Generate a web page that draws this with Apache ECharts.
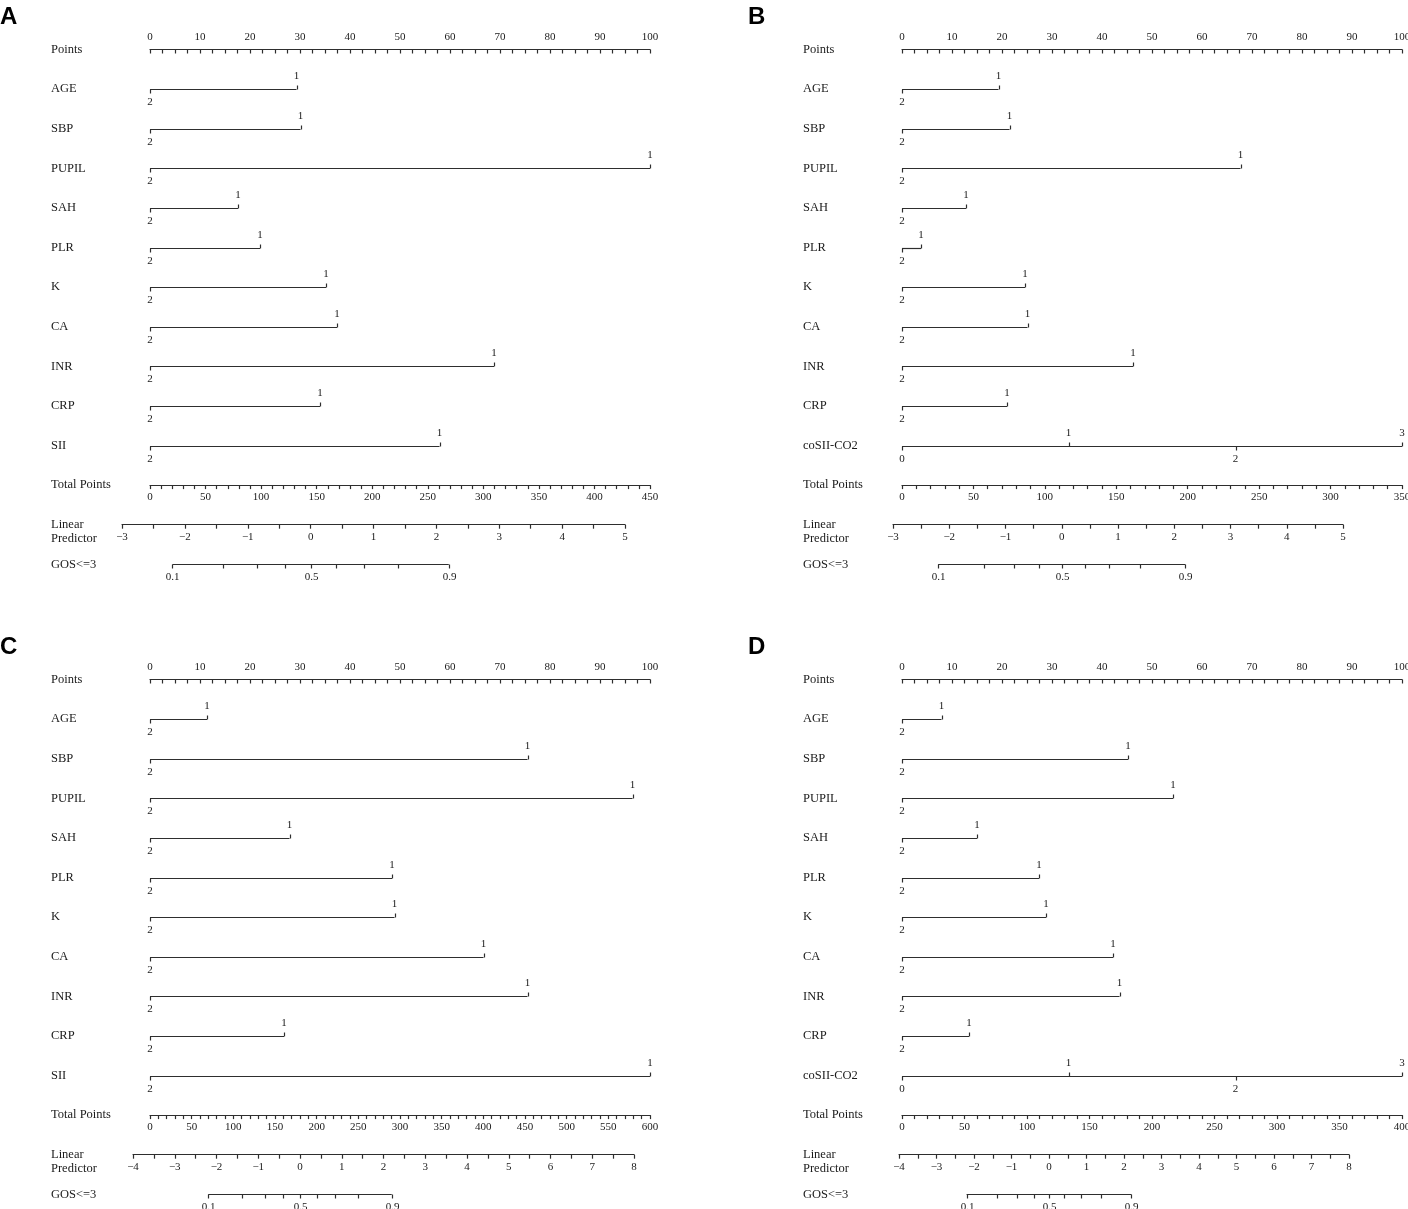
<!DOCTYPE html>
<html>
<head>
<meta charset="utf-8">
<script src="https://cdn.jsdelivr.net/npm/echarts@6/dist/echarts.min.js"></script>
<style>
  html, body { margin: 0; padding: 0; background: #fff; }
  #chart { width: 1408px; height: 1209px; }
</style>
</head>
<body>
<div id="chart"></div>
<script>
// row names
var rowsAC = ['AGE', 'SBP', 'PUPIL', 'SAH', 'PLR', 'K', 'CA', 'INR', 'CRP', 'SII'];
var rowsBD = ['AGE', 'SBP', 'PUPIL', 'SAH', 'PLR', 'K', 'CA', 'INR', 'CRP', 'coSII-CO2'];

// points for level "1" (level "2" sits at 0)
var ptsA = [29.3, 30.1, 100, 17.6, 22.0, 35.2, 37.4, 68.8, 34.0, 57.9];
var ptsB = [19.3, 21.5, 67.7, 12.8, 3.8, 24.6, 25.1, 46.2, 21.0];
var ptsC = [11.4, 75.5, 96.5, 27.9, 48.4, 48.9, 66.7, 75.5, 26.8, 100];
var ptsD = [7.9, 45.2, 54.2, 15.0, 27.4, 28.8, 42.2, 43.5, 13.4];

// coSII-CO2 levels and their points
var cosiiLevels = ['0', '1', '2', '3'];
var cosiiPtsB = [0, 33.3, 66.7, 100];
var cosiiPtsD = [0, 33.3, 66.7, 100];

// scales
var totalMax = [450, 350, 600, 400];
var lpMin = [-3, -3, -4, -4];
var lpMax = [5, 5, 8, 8];
var gosTicks = [0.1, 0.2, 0.3, 0.4, 0.5, 0.6, 0.7, 0.8, 0.9];
var gosLabels = ['0.1', '0.5', '0.9'];

var SERIF = '"Liberation Serif", "Times New Roman", serif';
var INK = '#1a1a1a';
var LINE = '#2e2e2e';
var LW = 1.2;
var ROW = 39.6;

var panels = [
  { key: 'A', ox: 0,   oy: 0,   letterX: 0,   rows: rowsAC, pts: ptsA, multi: null,      lpLeft: 122, lpRight: 625 },
  { key: 'B', ox: 752, oy: 0,   letterX: 748, rows: rowsBD, pts: ptsB, multi: cosiiPtsB, lpLeft: 893, lpRight: 1343 },
  { key: 'C', ox: 0,   oy: 630, letterX: 0,   rows: rowsAC, pts: ptsC, multi: null,      lpLeft: 133, lpRight: 634 },
  { key: 'D', ox: 752, oy: 630, letterX: 748, rows: rowsBD, pts: ptsD, multi: cosiiPtsD, lpLeft: 899, lpRight: 1349 }
];

function minusFmt(v) {
  return v < 0 ? '\u2212' + Math.abs(v) : String(v);
}

function logit(p) {
  return Math.log(p / (1 - p));
}

function crisp(v) {
  return Math.round(v) + 0.5;
}

function shownAxis(idx, min, max, interval, minorSplit, pos, inside) {
  return {
    type: 'value', gridIndex: idx, min: min, max: max, interval: interval, position: pos,
    axisLine: { show: true, onZero: false, lineStyle: { color: LINE, width: LW } },
    axisTick: { show: true, inside: inside, length: 4, lineStyle: { color: LINE, width: LW } },
    minorTick: { show: true, splitNumber: minorSplit, length: 4, lineStyle: { color: LINE, width: LW } },
    axisLabel: {
      show: true, margin: 7, color: INK, fontFamily: SERIF, fontSize: 11,
      formatter: minusFmt, showMinLabel: true, showMaxLabel: true, hideOverlap: false
    },
    splitLine: { show: false },
    minorSplitLine: { show: false }
  };
}

function hiddenAxis(idx, min, max, inverse) {
  return {
    type: 'value', gridIndex: idx, min: min, max: max, inverse: !!inverse,
    show: false, axisLine: { show: false }, axisTick: { show: false },
    axisLabel: { show: false }, splitLine: { show: false }
  };
}

function buildLevels(pts, multi) {
  var list = pts.map(function (v) {
    return [{ t: '2', v: 0, up: false }, { t: '1', v: v, up: true }];
  });
  if (multi) {
    list.push(multi.map(function (v, k) {
      return { t: cosiiLevels[k], v: v, up: k % 2 === 1 };
    }));
  }
  return list;
}

function varRender(levels) {
  return function (params, api) {
    var lv = levels[params.dataIndex];
    var row = api.value(1);
    var pos = lv.map(function (l) { return api.coord([l.v, row]); });
    var xs = pos.map(function (p) { return p[0]; });
    var y = crisp(pos[0][1]);
    var children = [{
      type: 'line',
      shape: { x1: Math.min.apply(null, xs), y1: y, x2: Math.max.apply(null, xs), y2: y },
      style: { stroke: LINE, lineWidth: LW }
    }];
    lv.forEach(function (l, k) {
      var x = crisp(xs[k]);
      var d = l.up ? -1 : 1;
      children.push({
        type: 'line',
        shape: { x1: x, y1: y, x2: x, y2: y + d * 4 },
        style: { stroke: LINE, lineWidth: LW }
      });
      children.push({
        type: 'text', x: xs[k], y: y + d * 13,
        style: { text: l.t, fill: INK, font: '11px ' + SERIF, align: 'center', verticalAlign: 'middle' }
      });
    });
    return { type: 'group', children: children };
  };
}

function gosRender(params, api) {
  var y = crisp(api.coord([0, 0])[1]);
  var first = api.coord([logit(gosTicks[0]), 0])[0];
  var last = api.coord([logit(gosTicks[gosTicks.length - 1]), 0])[0];
  var children = [{
    type: 'line', shape: { x1: first, y1: y, x2: last, y2: y },
    style: { stroke: LINE, lineWidth: LW }
  }];
  gosTicks.forEach(function (p) {
    var x = crisp(api.coord([logit(p), 0])[0]);
    children.push({
      type: 'line', shape: { x1: x, y1: y, x2: x, y2: y + 4 },
      style: { stroke: LINE, lineWidth: LW }
    });
    var lab = p.toFixed(1);
    if (gosLabels.indexOf(lab) >= 0) {
      children.push({
        type: 'text', x: x, y: y + 13,
        style: { text: lab, fill: INK, font: '11px ' + SERIF, align: 'center', verticalAlign: 'middle' }
      });
    }
  });
  return { type: 'group', children: children };
}

var grid = [], xAxis = [], yAxis = [], series = [], graphic = [];
var rowFont = '12.5px ' + SERIF;

panels.forEach(function (p, pi) {
  var rowY = function (i) { return p.oy + 49.5 + ROW * i; };
  var levels = buildLevels(p.pts, p.multi);
  var n = levels.length;

  // panel letter
  graphic.push({
    type: 'text', x: p.letterX, y: p.oy + 17,
    style: { text: p.key, fill: '#000', font: 'bold 24px "Liberation Sans", Arial, sans-serif', verticalAlign: 'middle' }
  });

  // row names
  var names = ['Points'].concat(p.rows).concat(['Total Points']);
  names.forEach(function (nm, i) {
    graphic.push({
      type: 'text', x: p.ox + 51, y: rowY(i),
      style: { text: nm, fill: INK, font: rowFont, verticalAlign: 'middle' }
    });
  });
  graphic.push({
    type: 'text', x: p.ox + 51, y: rowY(12),
    style: { text: 'Linear', fill: INK, font: rowFont, verticalAlign: 'middle' }
  });
  graphic.push({
    type: 'text', x: p.ox + 51, y: rowY(12) + 14,
    style: { text: 'Predictor', fill: INK, font: rowFont, verticalAlign: 'middle' }
  });
  graphic.push({
    type: 'text', x: p.ox + 51, y: rowY(13),
    style: { text: 'GOS<=3', fill: INK, font: rowFont, verticalAlign: 'middle' }
  });

  // points grid with variable rows
  var g0 = grid.length;
  grid.push({ left: p.ox + 150, top: rowY(0), width: 500, height: ROW * n, outerBoundsMode: 'none' });
  xAxis.push(shownAxis(g0, 0, 100, 10, 4, 'top', true));
  yAxis.push(hiddenAxis(g0, 0, n, true));
  series.push({
    type: 'custom', xAxisIndex: g0, yAxisIndex: g0, clip: false, silent: true,
    renderItem: varRender(levels),
    encode: { x: 0, y: 1 },
    data: levels.map(function (lv, k) {
      return [Math.max.apply(null, lv.map(function (l) { return l.v; })), k + 1];
    })
  });

  // total points
  var g1 = grid.length;
  grid.push({ left: p.ox + 150, top: rowY(11) - 10, width: 500, height: 10, outerBoundsMode: 'none' });
  xAxis.push(shownAxis(g1, 0, totalMax[pi], 50, 5, 'bottom', false));
  yAxis.push(hiddenAxis(g1, 0, 1));

  // linear predictor
  var g2 = grid.length;
  grid.push({ left: p.lpLeft, top: rowY(12) - 10, width: p.lpRight - p.lpLeft, height: 10, outerBoundsMode: 'none' });
  xAxis.push(shownAxis(g2, lpMin[pi], lpMax[pi], 1, 2, 'bottom', false));
  yAxis.push(hiddenAxis(g2, 0, 1));

  // GOS<=3 on the linear predictor scale
  var g3 = grid.length;
  grid.push({ left: p.lpLeft, top: rowY(13) - 10, width: p.lpRight - p.lpLeft, height: 10, outerBoundsMode: 'none' });
  xAxis.push(hiddenAxis(g3, lpMin[pi], lpMax[pi]));
  yAxis.push(hiddenAxis(g3, 0, 1));
  series.push({
    type: 'custom', xAxisIndex: g3, yAxisIndex: g3, clip: false, silent: true,
    renderItem: gosRender,
    encode: { x: 0, y: 1 },
    data: [[0, 0]]
  });
});

var chart = echarts.init(document.getElementById('chart'), null, { renderer: 'canvas' });
chart.setOption({
  backgroundColor: '#fff',
  animation: false,
  grid: grid,
  xAxis: xAxis,
  yAxis: yAxis,
  series: series,
  graphic: graphic
});
</script>
</body>
</html>
